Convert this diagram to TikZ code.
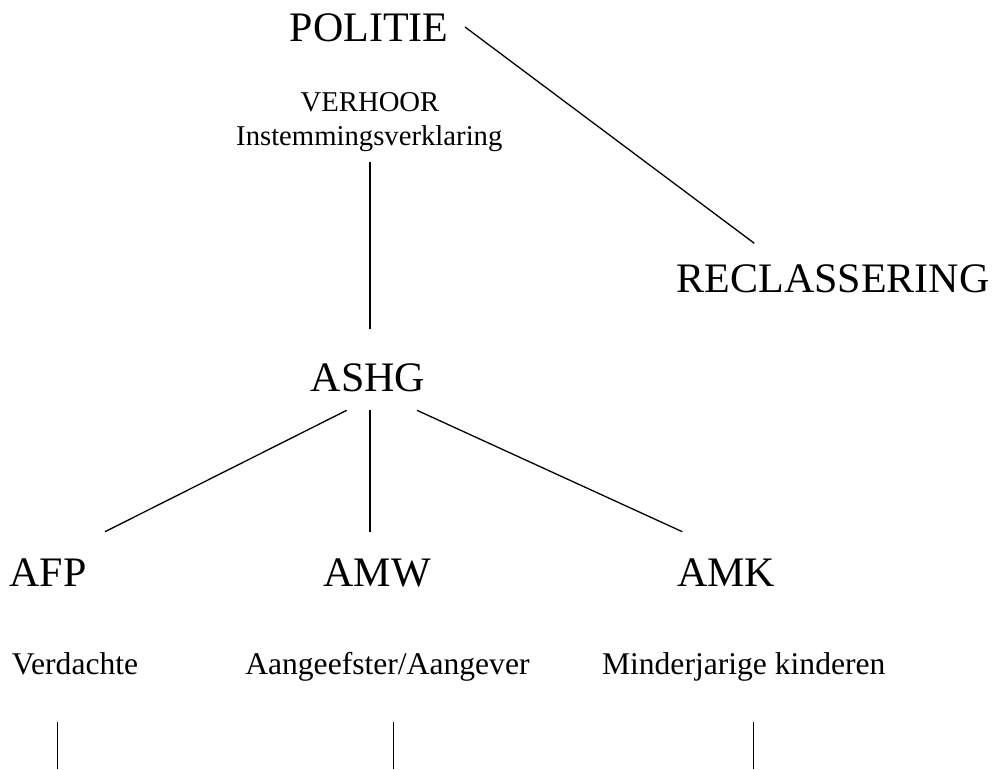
\documentclass[tikz,border=0pt]{standalone}
\usepackage{fontspec}
\setmainfont{Liberation Serif}
\usetikzlibrary{calc}
\tikzset{
  big/.style={font=\fontsize{42}{48}\selectfont, inner sep=0pt, anchor=base},
  mid/.style={font=\fontsize{28.7}{34}\selectfont, inner sep=0pt, anchor=base},
  low/.style={font=\fontsize{31.6}{38}\selectfont, inner sep=0pt, anchor=base},
  conn/.style={line width=1.3pt, line cap=butt}
}
\begin{document}
\begin{tikzpicture}[x=1pt, y=-1pt]
\useasboundingbox (0,0) rectangle (995,769);
% nodes
\node[big] (politie) at (369,41.7) {POLITIE};
\node[mid] (verhoor) at (370,111.7) {VERHOOR};
\node[mid] (instem) at (369.3,145) {Instemmingsverklaring};
\node[big] (reclass) at (833,292.7) {RECLASSERING};
\node[big] (ashg) at (367.9,391.7) {ASHG};
\node[big] (afp) at (48,586.7) {AFP};
\node[big] (amw) at (377,586.7) {AMW};
\node[big] (amk) at (726,586.7) {AMK};
\node[low] (verd) at (75,674.5) {Verdachte};
\node[low] (aang) at (387.4,674.5) {Aangeefster/Aangever};
\node[low] (mind) at (743.7,674.5) {Minderjarige kinderen};
\coordinate (e1) at (57.7,769);
\coordinate (e2) at (393.4,769);
\coordinate (e3) at (753.8,769);
% connectors
\draw[conn] ($(politie.base)+(96,-14.7)$) -- ($(reclass.base)+(-78.7,-49.4)$);
\draw[conn] ($(instem.base)+(0.7,16.7)$) -- ($(ashg.base)+(2.1,-62.4)$);
\draw[conn] ($(ashg.base)+(-21.2,18.6)$) -- ($(afp.base)+(57,-55)$);
\draw[conn] ($(ashg.base)+(2.1,18.6)$) -- ($(amw.base)+(-7,-55)$);
\draw[conn] ($(ashg.base)+(49.1,18.6)$) -- ($(amk.base)+(-43.7,-55)$);
\draw[conn] ($(verd.base)+(-17.3,47.5)$) -- (e1);
\draw[conn] ($(aang.base)+(6,47.5)$) -- (e2);
\draw[conn] ($(mind.base)+(10.1,47.5)$) -- (e3);
\end{tikzpicture}
\end{document}
